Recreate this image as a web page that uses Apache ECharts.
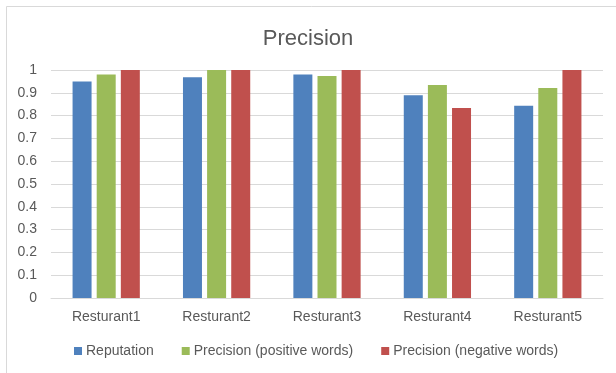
<!DOCTYPE html>
<html>
<head>
<meta charset="utf-8">
<script src="https://cdn.jsdelivr.net/npm/echarts@6/dist/echarts.min.js"></script>
<style>
  html, body { margin: 0; padding: 0; background: #fff; }
  #chart { width: 616px; height: 373px; }
</style>
</head>
<body>
<div id="chart"></div>
<script>
// Restaurants on the category axis
var categories = ['Resturant1', 'Resturant2', 'Resturant3', 'Resturant4', 'Resturant5'];
// Series names and values
var seriesNames = ['Reputation', 'Precision (positive words)', 'Precision (negative words)'];
var reputation = [0.950, 0.968, 0.980, 0.889, 0.843];
var positiveWords = [0.980, 1.000, 0.974, 0.934, 0.921];
var negativeWords = [1.000, 1.000, 1.000, 0.833, 1.000];
// Value axis ticks
var yMin = 0, yMax = 1, yStep = 0.1;

var FONT = '"Liberation Sans", Arial, sans-serif';
var TEXT = '#595959';
var colors = ['#4F81BD', '#9BBB59', '#C0504D'];
var values = [reputation, positiveWords, negativeWords];

var chart = echarts.init(document.getElementById('chart'), null, { renderer: 'canvas' });
chart.setOption({
  backgroundColor: '#ffffff',
  animation: false,
  color: colors,
  title: {
    text: 'Precision',
    left: 'center',
    top: 23,
    textStyle: { fontFamily: FONT, fontSize: 22, fontWeight: 'normal', color: TEXT }
  },
  graphic: [{
    type: 'rect',
    shape: { x: 6.5, y: 6.5, width: 640, height: 400 },
    style: { fill: 'none', stroke: '#d9d9d9', lineWidth: 1 },
    silent: true
  }],
  legend: {
    data: seriesNames,
    left: 74,
    top: 344,
    padding: 0,
    icon: 'rect',
    itemWidth: 8,
    itemHeight: 8,
    itemGap: 28,
    textStyle: { fontFamily: FONT, fontSize: 14, color: TEXT, padding: [0, 0, 0, -1] }
  },
  grid: { left: 51, right: 13, top: 70, bottom: 75, containLabel: false },
  xAxis: {
    type: 'category',
    data: categories,
    axisLine: { show: true, lineStyle: { color: '#d9d9d9', width: 1 } },
    axisTick: { show: false },
    axisLabel: { fontFamily: FONT, fontSize: 14, color: TEXT, margin: 12 }
  },
  yAxis: {
    type: 'value',
    min: yMin,
    max: yMax,
    interval: yStep,
    axisLine: { show: false },
    axisTick: { show: false },
    splitLine: { lineStyle: { color: '#d9d9d9', width: 1 } },
    axisLabel: {
      fontFamily: FONT, fontSize: 14, color: TEXT, margin: 14,
      formatter: function (v) { return String(parseFloat(v.toFixed(1))); }
    }
  },
  series: seriesNames.map(function (name, i) {
    return {
      name: name,
      type: 'bar',
      data: values[i],
      barWidth: 19,
      barGap: '27%',
      itemStyle: { color: colors[i] }
    };
  })
});
</script>
</body>
</html>
